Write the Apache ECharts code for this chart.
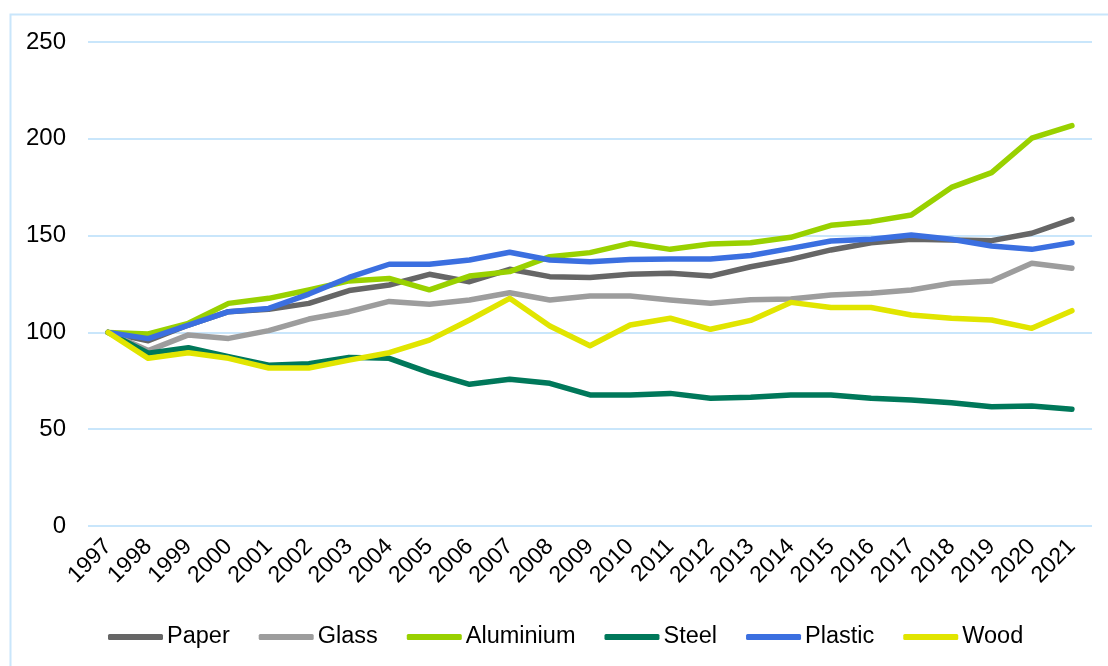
<!DOCTYPE html>
<html>
<head>
<meta charset="utf-8">
<script src="https://cdn.jsdelivr.net/npm/echarts@6/dist/echarts.min.js"></script>
<style>
  html, body { margin: 0; padding: 0; background: #ffffff; }
  #chart { width: 1108px; height: 666px; }
</style>
</head>
<body>
<div id="chart"></div>
<script>
// Index of packaging material volumes, 1997 = 100
const years = ['1997','1998','1999','2000','2001','2002','2003','2004','2005','2006','2007','2008','2009',
               '2010','2011','2012','2013','2014','2015','2016','2017','2018','2019','2020','2021'];

const paper     = [100, 95.7, 103.8, 110.7, 111.9, 115.0, 121.6, 124.5, 130.0, 126.2, 132.6, 128.8, 128.4,
                   130.0, 130.5, 129.1, 133.9, 137.7, 142.6, 146.3, 148.1, 147.7, 147.4, 151.2, 158.4];
const glass     = [100, 90.6, 98.7, 96.9, 100.9, 106.9, 110.7, 116.0, 114.5, 116.7, 120.5, 116.7, 118.8,
                   118.8, 116.7, 115.0, 116.9, 117.3, 119.3, 120.2, 121.9, 125.4, 126.6, 135.7, 133.1];
const aluminium = [100, 99.2, 104.7, 115.0, 117.6, 121.9, 126.6, 127.9, 122.0, 129.1, 131.4, 139.1, 141.2,
                   146.0, 142.9, 145.7, 146.3, 149.1, 155.3, 157.2, 160.6, 174.9, 182.5, 200.3, 206.8];
const steel     = [100, 89.2, 92.1, 87.5, 83.0, 83.8, 87.1, 86.6, 79.2, 73.2, 75.8, 73.7, 67.7,
                   67.7, 68.5, 66.0, 66.5, 67.7, 67.7, 66.0, 65.1, 63.7, 61.6, 62.0, 60.3];
const plastic   = [100, 96.8, 103.8, 110.7, 112.4, 119.8, 128.4, 135.2, 135.2, 137.4, 141.4, 137.4, 136.5,
                   137.7, 137.9, 137.9, 139.7, 143.4, 147.2, 148.1, 150.3, 148.1, 144.6, 142.9, 146.3];
const wood      = [100, 86.6, 89.5, 86.6, 81.6, 81.6, 85.7, 89.5, 96.0, 106.4, 117.6, 103.3, 93.1,
                   103.8, 107.3, 101.6, 106.2, 115.5, 112.9, 112.9, 109.0, 107.3, 106.4, 102.1, 111.2];

const yTicks = [0, 50, 100, 150, 200, 250];

const seriesDefs = [
  { name: 'Paper',     data: paper,     color: '#666666' },
  { name: 'Glass',     data: glass,     color: '#9d9d9d' },
  { name: 'Aluminium', data: aluminium, color: '#99d100' },
  { name: 'Steel',     data: steel,     color: '#00785a' },
  { name: 'Plastic',   data: plastic,   color: '#3b6fe0' },
  { name: 'Wood',      data: wood,      color: '#e1e500' }
];

const font = 'Liberation Sans, Arial, sans-serif';
const chart = echarts.init(document.getElementById('chart'), null, { renderer: 'canvas' });

chart.setOption({
  backgroundColor: '#ffffff',
  animation: false,
  graphic: [{
    type: 'rect',
    left: 8, top: 12,
    shape: { width: 1200, height: 700 },
    style: { fill: 'none', stroke: '#c9e6fb', lineWidth: 2 },
    silent: true
  }],
  grid: { left: 88, right: 16, top: 42, bottom: 140, containLabel: false },
  legend: {
    left: 108, top: 625, padding: 0,
    itemWidth: 55, itemHeight: 6, itemGap: 29,
    icon: 'roundRect',
    textStyle: { fontFamily: font, fontSize: 23.5, color: '#000000', padding: [0, 0, 0, -1] },
    data: seriesDefs.map(s => s.name)
  },
  xAxis: {
    type: 'category',
    data: years,
    boundaryGap: true,
    axisLine: { show: false },
    axisTick: { show: false },
    axisLabel: {
      interval: 0, rotate: 45, margin: 17,
      fontFamily: font, fontSize: 23, color: '#000000'
    }
  },
  yAxis: {
    type: 'value',
    min: yTicks[0], max: yTicks[yTicks.length - 1], interval: 50,
    axisLine: { show: false },
    axisTick: { show: false },
    axisLabel: { margin: 22, fontFamily: font, fontSize: 24, color: '#000000' },
    splitLine: { lineStyle: { color: '#c9e6fb', width: 2 } }
  },
  series: seriesDefs.map(s => ({
    name: s.name,
    type: 'line',
    data: s.data,
    symbol: 'none',
    color: s.color,
    lineStyle: { width: 5.5, color: s.color, cap: 'round', join: 'round' },
    itemStyle: { color: s.color }
  }))
});
</script>
</body>
</html>
